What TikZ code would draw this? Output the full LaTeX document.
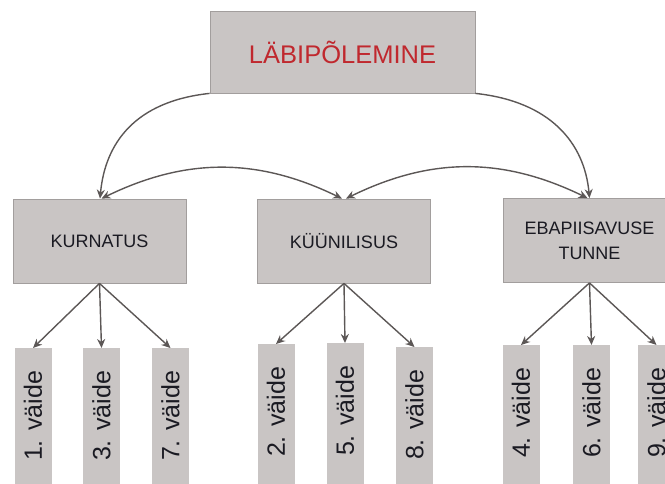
\documentclass[tikz,border=0pt]{standalone}
\usepackage{fontspec}
\setmainfont{Liberation Sans}
\usetikzlibrary{arrows.meta}
\definecolor{boxfill}{HTML}{C9C5C4}
\definecolor{boxline}{HTML}{A29E9D}
\definecolor{arrowc}{HTML}{5C5756}
\definecolor{titlered}{HTML}{C0282E}
\definecolor{txt}{HTML}{1A1A22}
\begin{document}
\begin{tikzpicture}[x=1pt,y=-1pt,
  box/.style={draw=boxline, fill=boxfill, line width=0.8pt, inner sep=0pt, align=center},
  topbox/.style={box, minimum width=265pt, minimum height=82pt, text=titlered, font=\fontsize{25.5}{30}\selectfont},
  midbox/.style={box, minimum width=173pt, minimum height=84pt, text=txt, font=\fontsize{18}{25}\selectfont},
  leaf/.style={box, draw=none, minimum width=37pt, minimum height=200pt, anchor=north},
  leaftext/.style={rotate=90, text=txt, inner sep=0pt, font=\fontsize{25}{30}\selectfont},
  conn/.style={draw=arrowc, line width=1.4pt, -{Stealth[length=9pt,width=8pt]}},
  dconn/.style={draw=arrowc, line width=1.4pt, {Stealth[length=9pt,width=8pt]}-{Stealth[length=9pt,width=8pt]}}
]
\useasboundingbox (0,0) rectangle (665,483);
\begin{scope}
\clip (0,0) rectangle (665,483);
\node[topbox] (top) at (342.5,52) {LÄBIPÕLEMINE};
\node[midbox] (k) at (99.5,241) {KURNATUS};
\node[midbox] (u) at (344,241) {KÜÜNILISUS};
\node[midbox] (e) at (589.5,240.5) {EBAPIISAVUSE\\TUNNE};

\foreach \n/\x/\y/\t in {v1/33/348/1, v3/101.5/348/3, v7/170.5/348/7,
                         v2/276/344/2, v5/345/343/5, v8/414.5/347/8,
                         v4/521/345/4, v6/591.5/345/6, v9/656.5/345/9} {
  \node[leaf] (\n) at (\x,\y) {};
  \node[leaftext] (\n t) at (\x,{\y+68}) {\t. väide};
}

\draw[conn] (top.south west) .. controls +(-75,8) and +(5,-55) .. ([xshift=0.5pt]k.north);
\draw[conn] (top.south east) .. controls +(75,8) and +(-5,-55) .. (e.north);
\draw[dconn] ([xshift=2pt]k.north) to[bend left=26] ([xshift=-2pt]u.north);
\draw[dconn] ([xshift=2pt]u.north) to[bend left=26] ([xshift=-2pt]e.north);

\foreach \p/\c in {k/v1,k/v3,k/v7,u/v2,u/v5,u/v8,e/v4,e/v6,e/v9}
  \draw[conn] (\p.south) -- (\c.north);
\end{scope}
\end{tikzpicture}
\end{document}
